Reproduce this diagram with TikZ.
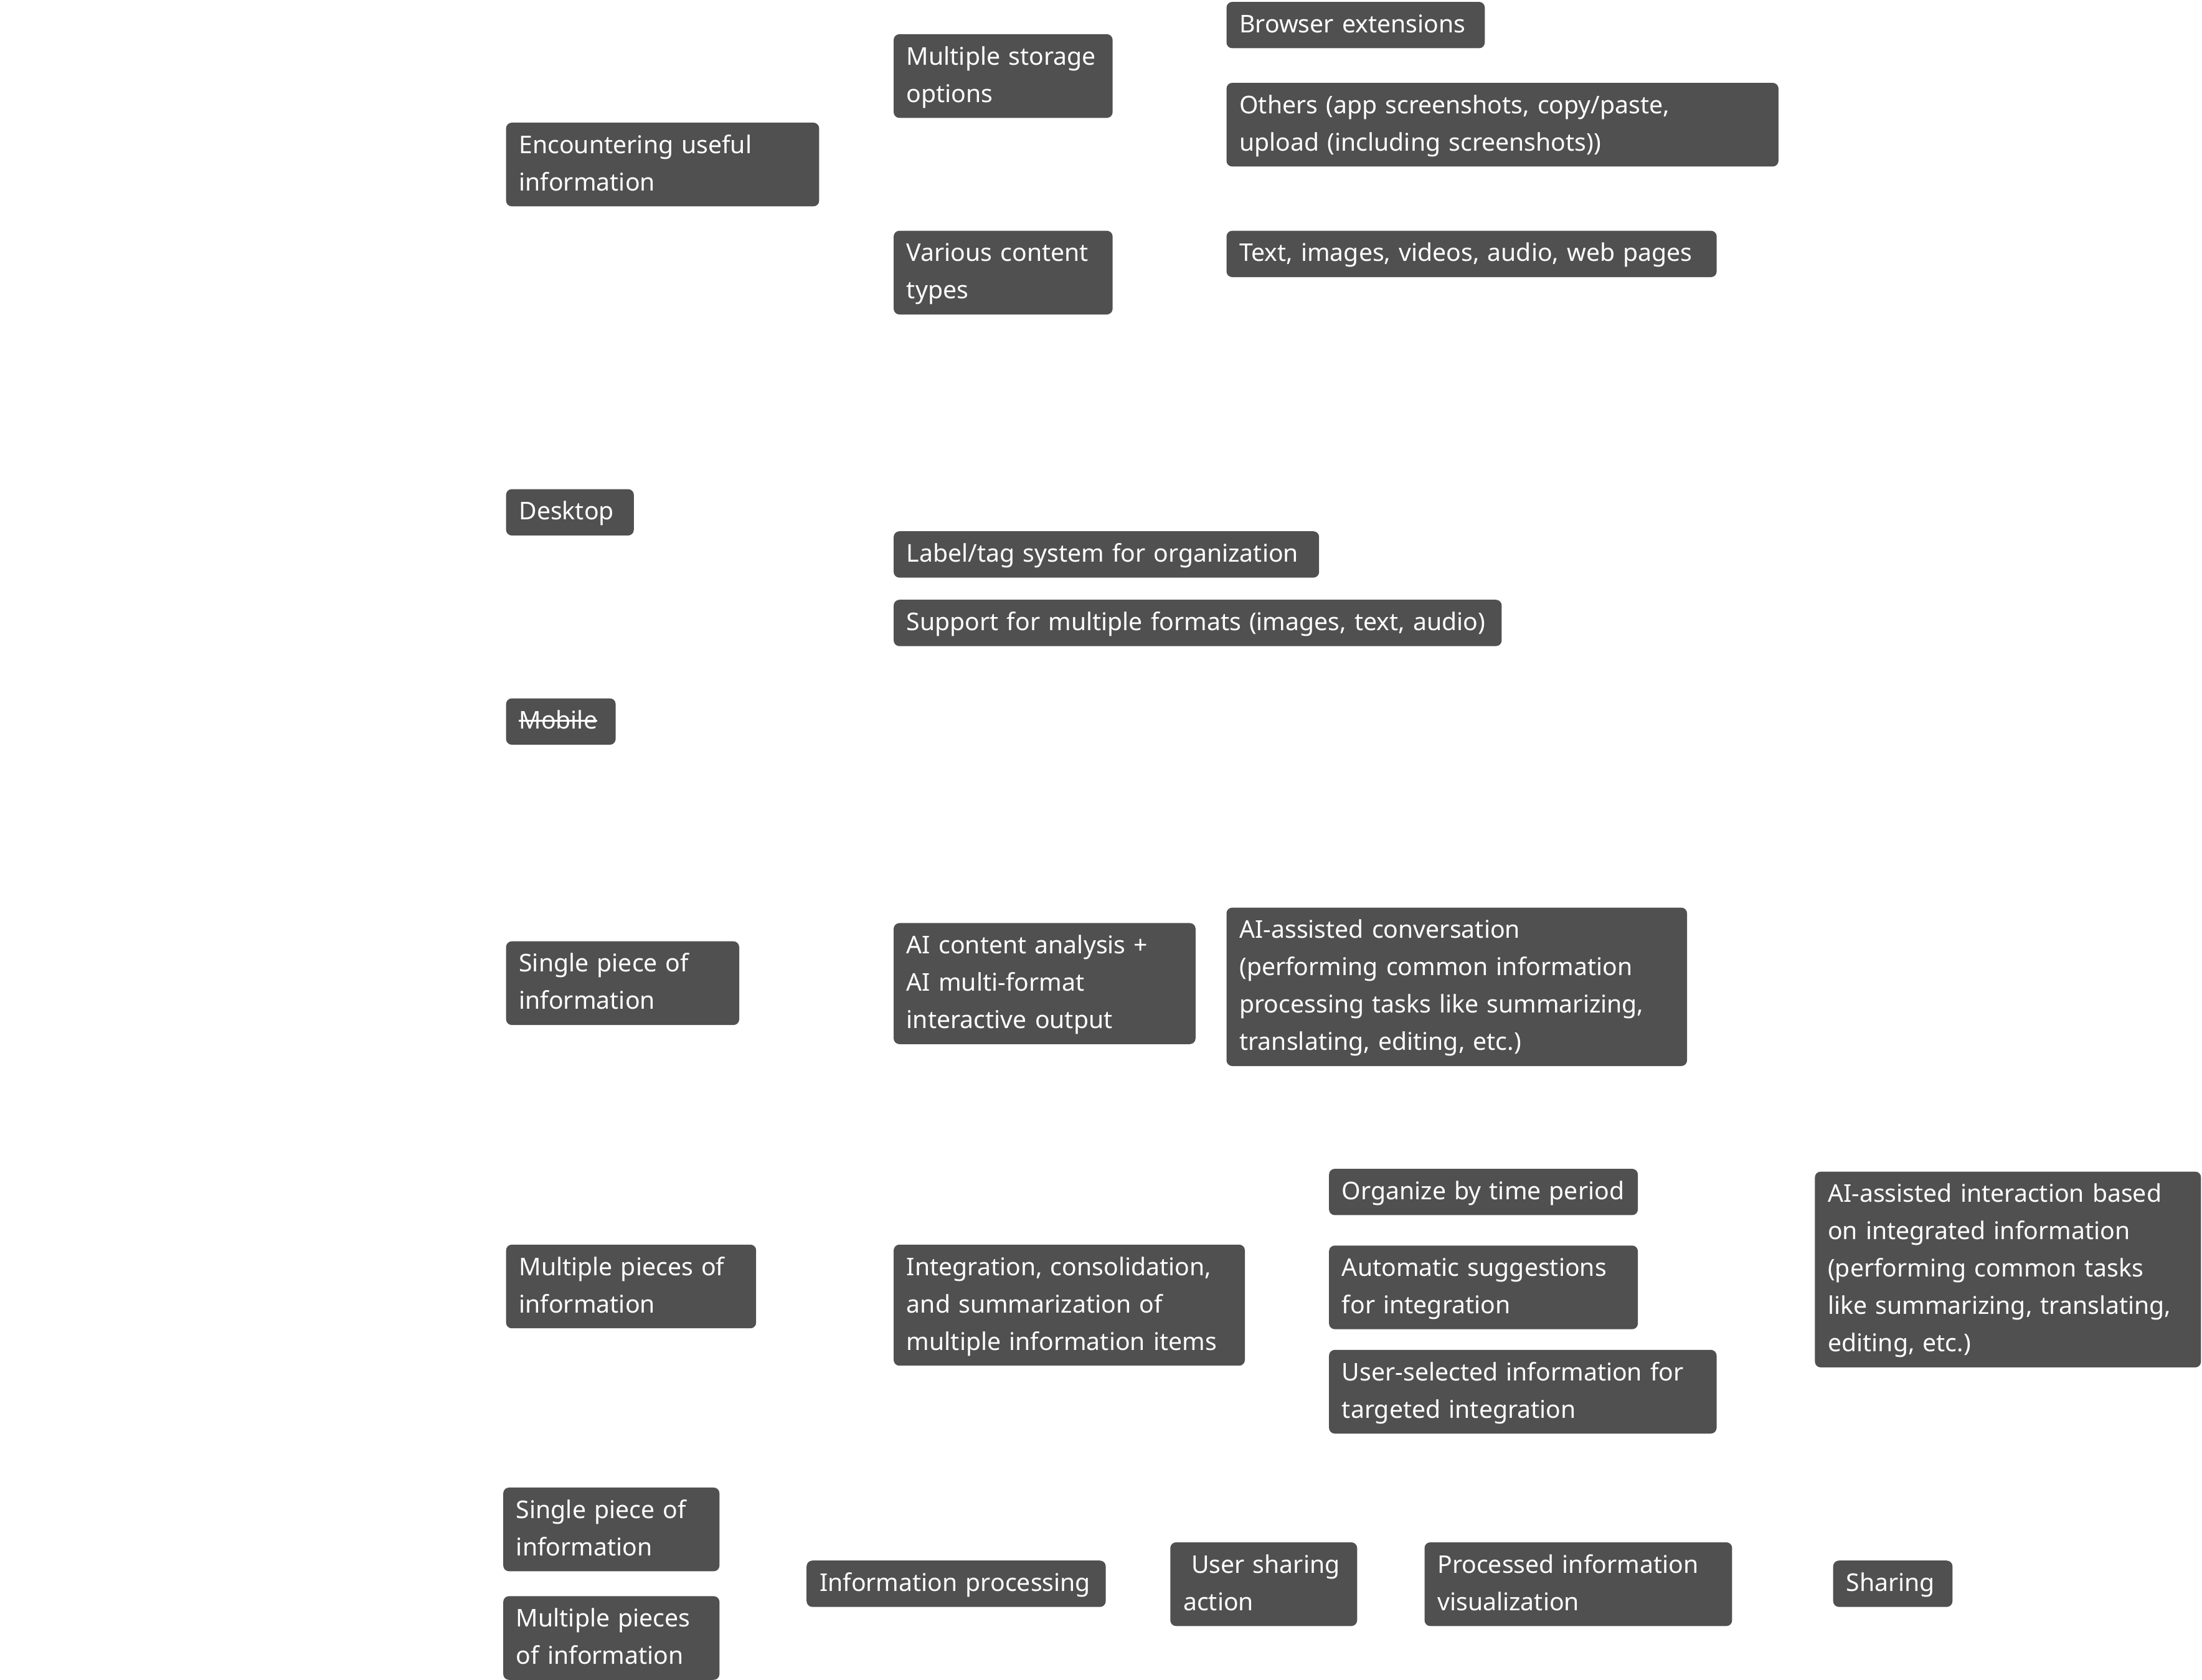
\documentclass[tikz,border=0pt]{standalone}
\usepackage{fontspec}
\setmainfont{Noto Sans}
\usetikzlibrary{positioning}
\definecolor{cardgray}{HTML}{505050}
\newsavebox\strikebox
\newcommand\struck[1]{\sbox\strikebox{#1}\rlap{\rule[3pt]{\wd\strikebox}{0.6pt}}\usebox\strikebox}

\begin{document}
\begin{tikzpicture}[x=0.5638pt, y=-0.5638pt]
	\tikzstyle{card}
	  =[fill=cardgray, rounded corners=2.3pt, text=white, align=left,
	  inner xsep=5.2pt, inner ysep=1.8pt, anchor=north west,
	  font=\fontsize{9.8}{15}\selectfont,
	  execute at begin node={\hyphenpenalty=10000\strut},
	  execute at end node=\strut]

	\useasboundingbox (0,0) rectangle (1568,1196);

	% capture
	\node[card, text width=115.3pt] (enc)
	  at (360,87) {Encountering useful\\information};
	\node[card, text width=77.5pt] (storage)
	  at (636,24) {Multiple storage\\options};
	\node[card, text width=93.3pt] (browser)
	  at (873,1) {Browser extensions};
	\node[card, text width=211.2pt] (others)
	  [below=13.5pt of browser.south west, anchor=north west]
	  {Others (app screenshots, copy/paste,\\upload (including screenshots))};
	\node[card, text width=77.5pt] (types)
	  at (636,164) {Various content\\types};
	\node[card, text width=186.4pt] (formats)
	  at (873,164) {Text, images, videos, audio, web pages};

	% platforms
	\node[card, text width=40.9pt] (desktop)
	  at (360,348) {Desktop};
	\node[card, text width=160.4pt] (tags)
	  at (636,378) {Label/tag system for organization};
	\node[card, text width=233.7pt] (support)
	  [below=8.5pt of tags.south west, anchor=north west]
	  {Support for multiple formats (images, text, audio)};
	\node[card, text width=33.6pt] (mobile)
	  at (360,497) {\struck{Mobile}};

	% single item
	\node[card, text width=83.2pt] (single)
	  at (360,670) {Single piece of\\information};
	\node[card, text width=110.8pt] (analysis)
	  at (636,657) {AI content analysis +\\AI multi-format\\interactive output};
	\node[card, text width=174.5pt] (chat)
	  at (873,646) {AI-assisted conversation\\(performing common information\\processing tasks like summarizing,\\translating, editing, etc.)};

	% several items
	\node[card, text width=90pt] (multi)
	  at (360,886) {Multiple pieces of\\information};
	\node[card, text width=130.6pt] (integrate)
	  at (636,886) {Integration, consolidation,\\and summarization of\\multiple information items};
	\node[card, text width=113.6pt] (period)
	  at (946,832) {Organize by time period};
	\node[card, text width=113.6pt] (suggest)
	  [below=11.8pt of period.south west, anchor=north west]
	  {Automatic suggestions\\for integration};
	\node[card, text width=145.2pt] (selected)
	  [below=7.9pt of suggest.south west, anchor=north west]
	  {User-selected information for\\targeted integration};
	\node[card, text width=144.6pt] (assist)
	  at (1292,834) {AI-assisted interaction based\\on integrated information\\(performing common tasks\\like summarizing, translating,\\editing, etc.)};

	% sharing
	\node[card, text width=76.4pt] (single2)
	  at (358,1059) {Single piece of\\information};
	\node[card, text width=76.4pt] (multi2)
	  [below=9.6pt of single2.south west, anchor=north west]
	  {Multiple pieces\\of information};
	\node[card, text width=109.7pt] (process)
	  at (574,1111) {Information processing};
	\node[card, text width=64.6pt] (action)
	  at (833,1098) {\ User sharing\\action};
	\node[card, text width=113.1pt] (visual)
	  at (1014,1098) {Processed information\\visualization};
	\node[card, text width=37.5pt] (sharing)
	  at (1305,1111) {Sharing};
\end{tikzpicture}
\end{document}
